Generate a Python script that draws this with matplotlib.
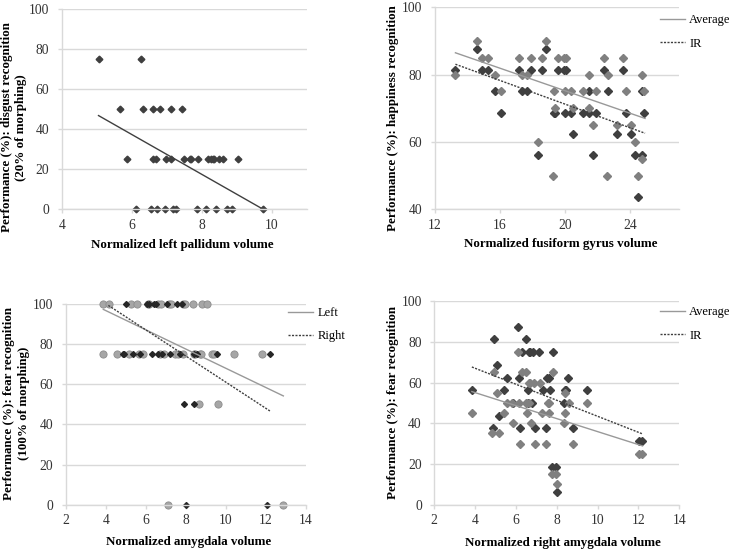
import matplotlib
matplotlib.use("Agg")
import matplotlib.pyplot as plt
from matplotlib.lines import Line2D

plt.rcParams['font.family'] = ['Liberation Serif', 'DejaVu Serif']

# Panel A: left pallidum vs disgust recognition
pallidum_x = [5.05, 6.27,
              5.66, 6.33, 6.61, 6.80, 7.13, 7.42,
              5.85, 6.60, 6.70, 6.98, 7.13, 7.50, 7.65, 7.69, 7.90, 8.17, 8.26, 8.31, 8.35, 8.50, 8.61, 9.04,
              6.13, 6.56, 6.71, 6.94, 7.18, 7.27, 7.86, 8.12, 8.41, 8.72, 8.86, 9.75]
disgust_y = [75, 75,
             50, 50, 50, 50, 50, 50,
             25, 25, 25, 25, 25, 25, 25, 25, 25, 25, 25, 25, 25, 25, 25, 25,
             0, 0, 0, 0, 0, 0, 0, 0, 0, 0, 0, 0]
disgust_trend_x = [5.05, 9.75]
disgust_trend_y = [46.8, 0.0]

# Panel B: fusiform gyrus vs happiness recognition
fusiform_avg_x = [13.26, 14.57, 14.90, 15.27, 15.71, 16.04, 17.19, 17.35, 17.68, 17.91,
                  18.34, 18.59, 18.86, 19.27, 19.33, 19.41, 19.58, 19.93, 20.09, 20.03,
                  20.40, 20.50, 21.12, 21.49, 21.49, 21.70, 21.94, 22.40, 22.60, 22.66,
                  23.18, 23.55, 23.76, 24.07, 24.33, 24.48, 24.72, 24.74, 24.89]
happy_avg_y = [80, 90, 85, 85, 80, 75, 85, 80, 80, 85,
               60, 85, 90, 50, 75, 70, 85, 85, 85, 75,
               75, 70, 75, 80, 70, 65, 75, 85, 50, 80,
               65, 85, 75, 65, 60, 50, 55, 80, 75]
fusiform_ir_x = [13.26, 14.57, 14.90, 15.27, 15.71, 16.04, 17.19, 17.35, 17.68, 17.91,
                 18.34, 18.59, 18.86, 19.33, 19.41, 19.58, 19.93, 20.09, 20.03, 20.40,
                 20.50, 21.12, 21.49, 21.49, 21.70, 21.94, 22.40, 22.66, 23.18, 23.55,
                 23.76, 24.07, 24.33, 24.48, 24.72, 24.74, 24.89]
happy_ir_y = [81.25, 87.5, 81.25, 81.25, 75, 68.75, 81.25, 75, 75, 81.25,
              56.25, 81.25, 87.5, 68.75, 68.75, 81.25, 81.25, 81.25, 68.75, 68.75,
              62.5, 68.75, 75, 68.75, 56.25, 68.75, 81.25, 75, 62.5, 81.25,
              68.75, 62.5, 56.25, 43.75, 56.25, 75, 68.75]
happy_avg_trend_x = [13.26, 24.93]
happy_avg_trend_y = [86.5, 67.0]
happy_ir_trend_x = [13.26, 24.93]
happy_ir_trend_y = [83.1, 62.6]

# Panel C: amygdala vs fear recognition (100% morphing)
amyg_left_x = [3.85, 4.18, 5.26, 5.58, 6.09, 6.18, 6.59, 6.74, 7.18, 7.24, 7.88, 7.98, 8.34, 8.81, 9.06,
               3.88, 4.58, 5.16, 5.68, 5.84, 6.71, 6.91, 7.46, 7.63, 7.84, 8.39, 8.46, 8.71, 8.77,
               9.32, 9.42, 10.41, 11.82,
               8.66, 9.62,
               7.09, 12.84]
fear_left_y = [100] * 15 + [75] * 18 + [50] * 2 + [0] * 2
amyg_right_x = [5.01, 6.06, 6.16, 6.41, 6.51, 7.08, 7.54, 7.81,
                4.85, 4.91, 5.38, 5.71, 6.29, 6.59, 6.83, 7.21, 7.71, 8.42, 8.57, 9.54, 12.2,
                7.93, 8.42,
                8.01, 12.04]
fear_right_y = [100] * 8 + [75] * 13 + [50] * 2 + [0] * 2
fear_left_trend_x = [3.88, 12.87]
fear_left_trend_y = [97.3, 54.2]
fear_right_trend_x = [4.13, 12.2]
fear_right_trend_y = [99.3, 46.7]

# Panel D: right amygdala vs fear recognition
ramyg_avg_x = [6.08,
               4.91, 6.28, 6.49, 7.80,
               6.62, 6.69, 6.87, 7.18,
               5.05, 8.42,
               5.54, 5.79, 6.16, 6.51, 6.65, 7.55, 7.63, 8.58, 9.49,
               3.84, 5.43, 6.54, 7.27, 7.60, 8.42,
               5.87, 6.73, 8.37,
               4.82, 5.18,
               6.21, 6.93, 7.47, 8.81,
               12.01, 12.17,
               7.75, 7.96,
               7.99]
fear_avg_y = [75,
              65, 65, 65, 65,
              60, 60, 60, 60,
              55, 55,
              50, 50, 50, 50, 50, 50, 50, 50, 50,
              45, 45, 45, 45, 45, 45,
              40, 40, 40,
              35, 35,
              30, 30, 30, 30,
              25, 25,
              15, 15,
              10]
ramyg_ir_x = [6.10,
              4.91, 6.49,
              6.29, 6.62, 6.69, 6.82, 7.14, 7.80,
              5.05,
              5.54, 6.16, 7.53, 7.60, 8.56,
              3.84, 5.43, 6.60, 7.31, 7.67, 8.42, 8.45, 9.49,
              5.87, 6.57, 6.77, 8.37,
              5.15,
              4.86, 6.20, 6.95, 7.47, 8.81,
              12.01, 12.17,
              7.75, 7.96,
              7.99]
fear_ir_y = [87.5,
             81.25, 81.25,
             75, 75, 75, 75, 75, 75,
             68.75,
             62.5, 62.5, 62.5, 62.5, 62.5,
             56.25, 56.25, 56.25, 56.25, 56.25, 56.25, 56.25, 56.25,
             50, 50, 50, 50,
             43.75,
             37.5, 37.5, 37.5, 37.5, 37.5,
             31.25, 31.25,
             18.75, 18.75,
             6.25]
fear_avg_trend_x = [3.84, 12.2]
fear_avg_trend_y = [55.6, 28.9]
fear_ir_trend_x = [3.84, 12.2]
fear_ir_trend_y = [67.7, 34.8]

DARK = '#3f3f3f'
GRAY = '#808080'
GRID = '#d9d9d9'
DOTTED = (0, (1.5, 1))


def style_axis(ax, xlim, xticks, ylim, yticks, xlabel, ylabel, xlab_pos, ylab_pos):
    ax.set_xlim(*xlim)
    ax.set_ylim(*ylim)
    ax.set_xticks(xticks)
    ax.set_yticks(yticks)
    ax.yaxis.grid(True, color=GRID, linewidth=1.0)
    ax.set_axisbelow(True)
    for side in ['top', 'right']:
        ax.spines[side].set_visible(False)
    for side in ['left', 'bottom']:
        ax.spines[side].set_color(GRID)
        ax.spines[side].set_linewidth(1.0)
    ax.tick_params(axis='both', colors=GRID, labelcolor='#333333', labelsize=9.8,
                   length=3, width=1.0, direction='out')
    ax.tick_params(axis='y', pad=6)
    ax.tick_params(axis='x', pad=4)
    ax.set_xlabel(xlabel, fontsize=9.4, fontweight='bold', va='center')
    ax.set_ylabel(ylabel, fontsize=9.4, fontweight='bold', va='center', linespacing=1.3)
    ax.xaxis.set_label_coords(*xlab_pos)
    ax.yaxis.set_label_coords(*ylab_pos)


def add_legend(ax, labels, styles, anchor):
    handles = [Line2D([], [], color=c, linestyle=ls, linewidth=1.0) for c, ls in styles]
    ax.legend(handles, labels, loc='upper left', bbox_to_anchor=anchor, frameon=False,
              fontsize=9, handlelength=2.0, handletextpad=0.35, labelspacing=0.9,
              borderpad=0, borderaxespad=0)


fig = plt.figure(figsize=(7.33, 5.52), dpi=100)

ax1 = fig.add_axes([0.0842, 0.6208, 0.3347, 0.3629])
ax2 = fig.add_axes([0.5934, 0.6208, 0.3325, 0.3659])
ax3 = fig.add_axes([0.0896, 0.0857, 0.3278, 0.3636])
ax4 = fig.add_axes([0.5925, 0.0857, 0.3342, 0.3685])

# A
ax1.plot(disgust_trend_x, disgust_trend_y, color=DARK, linewidth=1.0)
ax1.plot(pallidum_x, disgust_y, 'D', color=DARK, markersize=3.4, linestyle='none')
style_axis(ax1, (4, 11), [4, 6, 8, 10], (0, 100), range(0, 101, 20),
           'Normalized left pallidum volume',
           'Performance (%): disgust recognition\n(20% of morphing)',
           (0.49, -0.178), (-0.195, 0.41))

# B
ax2.plot(fusiform_ir_x, happy_ir_y, 'D', color=DARK, markersize=3.6, linestyle='none')
ax2.plot(fusiform_avg_x, happy_avg_y, 'D', color=GRAY, markersize=3.6, linestyle='none')
ax2.plot(happy_avg_trend_x, happy_avg_trend_y, color='#999999', linewidth=1.0)
ax2.plot(happy_ir_trend_x, happy_ir_trend_y, color=DARK, linewidth=1.0, linestyle=DOTTED)
style_axis(ax2, (12, 27), [12, 16, 20, 24], (40, 100), range(40, 101, 20),
           'Normalized fusiform gyrus volume',
           'Performance (%): happiness recognition',
           (0.517, -0.172), (-0.174, 0.45))
add_legend(ax2, ['Average', 'IR'], [('#999999', '-'), (DARK, DOTTED)], (0.923, 0.965))

# C
ax3.plot(amyg_left_x, fear_left_y, 'o', color='#a6a6a6', markeredgecolor='#8c8c8c',
         markeredgewidth=0.6, markersize=5.2, linestyle='none')
ax3.plot(amyg_right_x, fear_right_y, 'D', color='#262626', markersize=3.0, linestyle='none')
ax3.plot(fear_left_trend_x, fear_left_trend_y, color='#999999', linewidth=1.0)
ax3.plot(fear_right_trend_x, fear_right_trend_y, color=DARK, linewidth=1.0, linestyle=DOTTED)
style_axis(ax3, (2, 14), range(2, 15, 2), (0, 100), range(0, 101, 20),
           'Normalized amygdala volume',
           'Performance (%): fear recognition\n(100% of morphing)',
           (0.512, -0.184), (-0.205, 0.504))
add_legend(ax3, ['Left', 'Right'], [('#999999', '-'), (DARK, DOTTED)], (0.925, 0.985))

# D
ax4.plot(ramyg_ir_x, fear_ir_y, 'D', color=DARK, markersize=3.6, linestyle='none')
ax4.plot(ramyg_avg_x, fear_avg_y, 'D', color=GRAY, markersize=3.6, linestyle='none')
ax4.plot(fear_avg_trend_x, fear_avg_trend_y, color='#999999', linewidth=1.0)
ax4.plot(fear_ir_trend_x, fear_ir_trend_y, color=DARK, linewidth=1.0, linestyle=DOTTED)
style_axis(ax4, (2, 14), range(2, 15, 2), (0, 100), range(0, 101, 20),
           'Normalized right amygdala volume',
           'Performance (%): fear recognition',
           (0.524, -0.187), (-0.17, 0.50))
add_legend(ax4, ['Average', 'IR'], [('#999999', '-'), (DARK, DOTTED)], (0.921, 0.975))

for ax in [ax1, ax2, ax3, ax4]:
    for line in ax.lines:
        line.set_clip_on(False)

fig.savefig('out.png', dpi=100)
